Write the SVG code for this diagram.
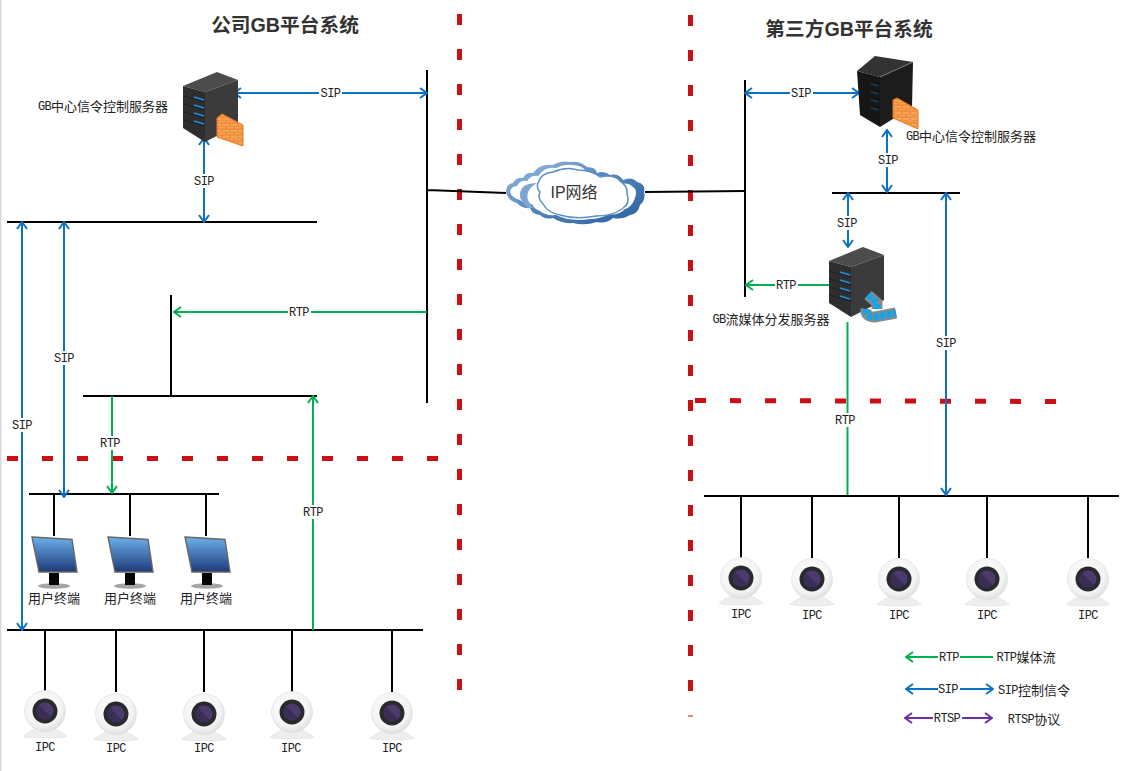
<svg xmlns="http://www.w3.org/2000/svg" width="1137" height="771" viewBox="0 0 1137 771">
<style>
text{font-family:"Liberation Mono","Noto Sans CJK SC",monospace;font-size:13px;fill:#222;text-anchor:middle;dominant-baseline:central}
.m{font-size:12px;letter-spacing:-.6px}
.t{font-family:"Liberation Sans","Noto Sans CJK SC",sans-serif;font-size:19.7px;font-weight:bold;fill:#333}
.cl{font-family:"Liberation Sans","Noto Sans CJK SC",sans-serif;font-size:16px;fill:#333}
.k{fill:none;stroke:#000;stroke-width:2}
.b,.g,.p{fill:none;stroke-width:2}
.b{stroke:#0b72c6}.g{stroke:#00b050}.p{stroke:#7030a0}
.bh{marker-start:url(#ab);marker-end:url(#ab)}
.ge{marker-end:url(#ag)}
.ph{marker-start:url(#ap);marker-end:url(#ap)}
.d{fill:none;stroke:#cc0f14;stroke-width:5;stroke-dasharray:11 24}
.w{fill:#fff}
.fs{fill:none;stroke:#8a8a8a;stroke-width:11}
.fb{fill:none;stroke:#12a5e8;stroke-width:7;stroke-dasharray:5 1.500}
</style>
<defs>
<marker id="ab" viewBox="0 0 12 12" refX="11" refY="6" markerWidth="12" markerHeight="12" markerUnits="userSpaceOnUse" orient="auto-start-reverse"><path d="M4 1L11 6L4 11" fill="none" stroke="#0b72c6" stroke-width="2"/></marker>
<marker id="ag" viewBox="0 0 12 12" refX="11" refY="6" markerWidth="12" markerHeight="12" markerUnits="userSpaceOnUse" orient="auto-start-reverse"><path d="M4 1L11 6L4 11" fill="none" stroke="#00b050" stroke-width="2"/></marker>
<marker id="ap" viewBox="0 0 12 12" refX="11" refY="6" markerWidth="12" markerHeight="12" markerUnits="userSpaceOnUse" orient="auto-start-reverse"><path d="M4 1L11 6L4 11" fill="none" stroke="#7030a0" stroke-width="2"/></marker>
<linearGradient id="cg" x1="0" y1="0" x2="1" y2="1"><stop offset="0" stop-color="#9dbde0"/><stop offset=".5" stop-color="#4f84bc"/><stop offset="1" stop-color="#2a5f9c"/></linearGradient>
<linearGradient id="sc" x1="0" y1="0" x2="0" y2="1"><stop offset="0" stop-color="#6cb0ea"/><stop offset="1" stop-color="#1c3a78"/></linearGradient>
<radialGradient id="cam" cx=".45" cy=".4" r=".65"><stop offset="0" stop-color="#fff"/><stop offset=".7" stop-color="#f3f3f3"/><stop offset="1" stop-color="#d8d8d8"/></radialGradient>
<pattern id="brick" width="8" height="6" patternUnits="userSpaceOnUse"><rect width="8" height="6" fill="#f6a257"/><path d="M0 0H8M0 3H8M2 0V3M6 3V6" stroke="#e87b22" stroke-width=".8"/></pattern>
<symbol id="srv" overflow="visible">
<path d="M0 14L34 0L55 8L22 20Z" fill="#4c4c4c"/>
<path d="M0 14L22 20V70L0 56Z" fill="#2e2e2e"/>
<path d="M22 20L55 8V53L22 70Z" fill="#3b3b3b"/>
<path d="M11 25L21 28M11 33L21 36M11 41L21 44M11 49L21 52" stroke="#1c8fe0" stroke-width="1.600"/>
<path d="M0 24L22 30M0 32L22 38M0 40L22 46M0 48L22 54" stroke="#1d1d1d" stroke-width=".8"/>
</symbol>
<symbol id="cam-i" overflow="visible">
<path d="M-22 25Q-12 18 -8 17H8Q12 18 22 25Q20 27 0 27Q-20 27 -22 25Z" fill="#eee" stroke="#ddd" stroke-width=".5"/>
<circle r="20.500" fill="url(#cam)" stroke="#ddd" stroke-width=".6"/>
<circle r="12.500" fill="#2a2a2e"/>
<circle r="8.500" fill="#4c3a6e"/>
<path d="M-6 -6A8.500 8.500 0 0 0 6 6Z" fill="#3a2d56"/>
</symbol>
<symbol id="mon" overflow="visible">
<ellipse cx="23" cy="50" rx="16" ry="2.800" fill="#a5a5a5"/>
<rect x="18" y="37" width="10" height="12" fill="#050505"/>
<path d="M1 1L41 3.500L46 36L8 36Z" fill="url(#sc)" stroke="#666" stroke-width="1.400"/>
</symbol>
</defs>
<rect width="1137" height="771" fill="#fff"/>
<rect x="0" y="0" width="1.500" height="771" fill="#d9d9d9"/>

<g id="boundaries">
<path class="d" d="M459.500 14V690"/>
<path class="d" d="M690.500 15V691"/>
<path d="M690.500 715V717" stroke="#e88" stroke-width="5"/>
<path class="d" d="M7 458.500H438"/>
<path class="d" d="M695 400.500L1057 401.500"/>
</g>

<g id="connectors">
<path class="k" d="M427 70V403M427 190L506 193M645 192L745 191"/>
<path class="k" d="M7 222H317M171 295V396M83 396H317M29 494H219M7 630H423"/>
<path class="k" d="M54 494V536M130 494V536M206 494V536"/>
<path class="k" d="M45 630V692M116 630V692M204 630V692M292 630V692M392 630V692"/>
<path class="k" d="M745 80V297M832 193H960M704 496H1119"/>
<path class="k" d="M741 496V558M812 496V558M899 496V558M987 496V558M1088 496V558"/>

<path class="b bh" d="M234 93H427"/>
<path class="b bh" d="M204 138V222"/>
<path class="b bh" d="M22 222V630"/>
<path class="b bh" d="M64 222V497"/>
<path class="g ge" d="M427 312H174"/>
<path class="g ge" d="M112 396V493"/>
<path class="g ge" d="M313 630V396"/>
<path class="b bh" d="M745 93H859"/>
<path class="b bh" d="M887 130V192"/>
<path class="b bh" d="M848 193V247"/>
<path class="b bh" d="M946 193V495"/>
<path class="g ge" d="M829 285H746"/>
<path class="g" d="M847.500 322V495"/>

<g id="connector-labels">
<rect class="w" x="319" y="87" width="23" height="13"/><text x="330.500" y="94" class="m">SIP</text>
<rect class="w" x="193" y="174" width="23" height="14"/><text x="204" y="182" class="m">SIP</text>
<rect class="w" x="11" y="418" width="23" height="14"/><text x="22" y="426" class="m">SIP</text>
<rect class="w" x="53" y="351" width="23" height="14"/><text x="64" y="359" class="m">SIP</text>
<rect class="w" x="288" y="306" width="23" height="13"/><text x="299" y="313" class="m">RTP</text>
<rect class="w" x="99" y="436" width="23" height="14"/><text x="110" y="444" class="m">RTP</text>
<rect class="w" x="302" y="505" width="23" height="14"/><text x="313" y="513" class="m">RTP</text>
<rect class="w" x="790" y="87" width="23" height="13"/><text x="801" y="94" class="m">SIP</text>
<rect class="w" x="877" y="153" width="23" height="14"/><text x="888" y="161" class="m">SIP</text>
<rect class="w" x="836" y="216" width="23" height="14"/><text x="847" y="224" class="m">SIP</text>
<rect class="w" x="935" y="336" width="23" height="14"/><text x="946" y="344" class="m">SIP</text>
<rect class="w" x="775" y="279" width="23" height="13"/><text x="786" y="286" class="m">RTP</text>
<rect class="w" x="834" y="413" width="23" height="14"/><text x="845" y="421" class="m">RTP</text>
</g>
</g>

<text id="title-left" class="t" x="285" y="25">公司GB平台系统</text>
<text id="title-right" class="t" x="849" y="29">第三方GB平台系统</text>

<g id="cloud">
<path d="M506 192Q506 184 513 183Q516 177 523 178Q526 172 533 173Q540 163 553 165Q561 160 570 162Q580 161 587 167Q596 167 597 173Q604 170 610 175Q618 173 623 180Q632 176 637 182Q646 184 644 192Q646 200 640 205Q638 214 630 215Q622 220 613 218Q606 224 597 222Q585 226 573 223Q562 224 553 218Q545 220 540 215Q532 214 530 208Q522 209 517 203Q508 201 506 192Z" fill="url(#cg)"/>
<path d="M510 192Q511 186 517 186Q520 180 527 181Q531 175 538 176Q545 166 556 168Q564 164 572 165Q582 165 586 171Q594 172 594 177Q604 174 609 179Q616 177 620 184Q629 182 633 187Q638 190 635 198Q632 207 625 209Q618 216 610 214Q600 219 590 219Q570 222 556 215Q545 216 540 211Q534 209 532 204Q524 204 520 200Q512 198 510 192Z" fill="#fff"/>
<path d="M528 208Q514 196 524 186Q529 183 537 183Q525 190 528 200Q530 204 533 208Z" fill="#7fa6d2"/>
<path d="M538 183Q541 173 553 172Q566 166 578 170Q591 170 600 177Q614 174 620 181Q628 186 627 194Q631 203 622 209Q612 216 596 216Q576 220 560 215Q548 213 543 204Q537 198 540 192Q536 188 538 183Z" fill="#fff" stroke="#5d8fc4" stroke-width="1.500"/>
<text class="cl" x="574" y="192">IP网络</text>
</g>

<g id="server-signal-left">
<use href="#srv" x="183" y="72"/>
<path d="M217 118L222 114L243 125V146L217 137Z" fill="url(#brick)" stroke="#e87b22"/>
<text x="103" y="107"><tspan class="m">GB</tspan>中心信令控制服务器</text>
</g>

<g id="server-signal-right">
<path d="M857 71L875 56L913 62L880 77Z" fill="#333"/>
<path d="M857 71L880 77V127L860 115Z" fill="#161616"/>
<path d="M880 77L913 62L912 107L880 127Z" fill="#1c1c1c"/>
<path d="M880 77L913 62" stroke="#777"/>
<path d="M871 84L879 86M871 92L879 94M871 100L879 102M871 108L879 110" stroke="#123a5c" stroke-width="1.500"/>
<path d="M893 100L897 98L918 110V129L893 118Z" fill="url(#brick)" stroke="#e87b22"/>
<text x="971" y="137"><tspan class="m">GB</tspan>中心信令控制服务器</text>
</g>

<g id="server-media">
<use href="#srv" x="829" y="247"/>
<path class="fs" d="M868 295L877 303L877 309" stroke-width="9"/>
<path class="fb" d="M868 295L877 303L877 309"/>
<path class="fs" d="M866 309Q865 317 875 317L896 313"/>
<path class="fb" d="M866 309Q865 317 875 317L896 313"/>
<text x="771" y="320"><tspan class="m">GB</tspan>流媒体分发服务器</text>
</g>

<g id="terminal-1"><use href="#mon" x="31" y="536"/><text x="54" y="599">用户终端</text></g>
<g id="terminal-2"><use href="#mon" x="107" y="536"/><text x="130" y="599">用户终端</text></g>
<g id="terminal-3"><use href="#mon" x="184" y="536"/><text x="206" y="599">用户终端</text></g>

<g id="ipc-l1"><use href="#cam-i" x="45" y="711"/><text class="m" x="45" y="748">IPC</text></g>
<g id="ipc-l2"><use href="#cam-i" x="116" y="714"/><text class="m" x="116" y="749">IPC</text></g>
<g id="ipc-l3"><use href="#cam-i" x="204" y="714"/><text class="m" x="204" y="749">IPC</text></g>
<g id="ipc-l4"><use href="#cam-i" x="292" y="712"/><text class="m" x="291" y="749">IPC</text></g>
<g id="ipc-l5"><use href="#cam-i" x="392" y="713"/><text class="m" x="392" y="749">IPC</text></g>
<g id="ipc-r1"><use href="#cam-i" x="741" y="578"/><text class="m" x="741" y="615">IPC</text></g>
<g id="ipc-r2"><use href="#cam-i" x="812" y="579"/><text class="m" x="812" y="616">IPC</text></g>
<g id="ipc-r3"><use href="#cam-i" x="899" y="579"/><text class="m" x="899" y="616">IPC</text></g>
<g id="ipc-r4"><use href="#cam-i" x="987" y="579"/><text class="m" x="987" y="616">IPC</text></g>
<g id="ipc-r5"><use href="#cam-i" x="1088" y="579"/><text class="m" x="1088" y="616">IPC</text></g>

<g id="legend">
<path class="g ge" d="M993 657H906"/>
<rect class="w" x="938" y="650" width="22" height="14"/><text class="m" x="949" y="658">RTP</text>
<text x="1026" y="658"><tspan class="m">RTP</tspan>媒体流</text>
<path class="b bh" d="M906 689H993"/>
<rect class="w" x="938" y="682" width="22" height="14"/><text class="m" x="948" y="690">SIP</text>
<text x="1034" y="691"><tspan class="m">SIP</tspan>控制信令</text>
<path class="p ph" d="M905 718H992"/>
<rect class="w" x="933" y="711" width="29" height="14"/><text class="m" x="947" y="719">RTSP</text>
<text x="1034" y="720"><tspan class="m">RTSP</tspan>协议</text>
</g>
</svg>
